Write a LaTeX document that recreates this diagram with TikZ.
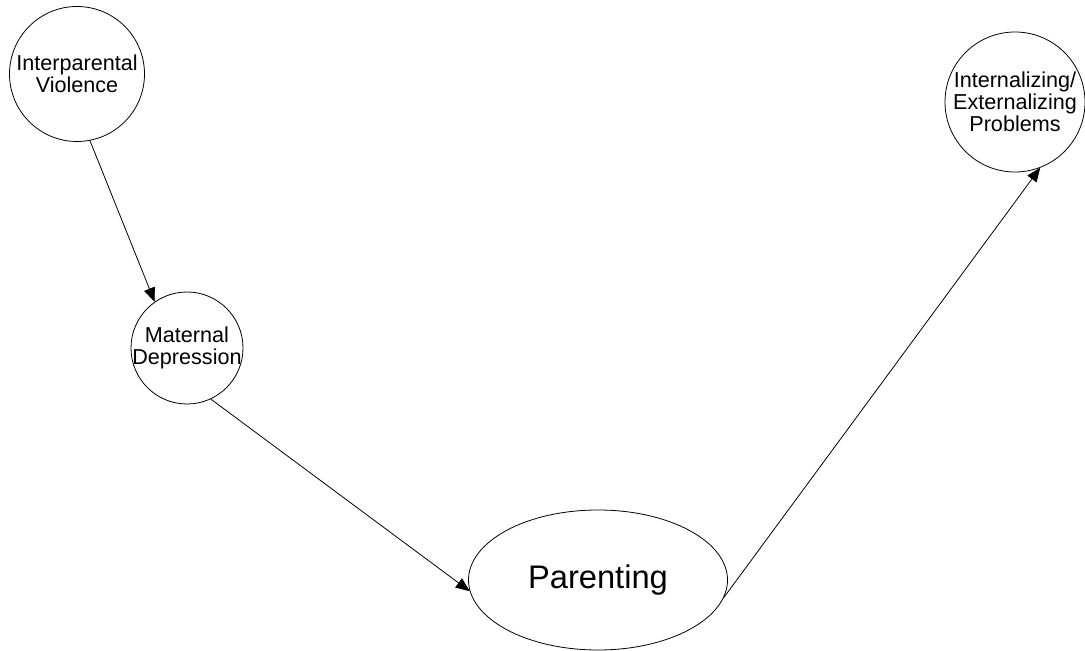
\documentclass[tikz,border=0pt]{standalone}
\usepackage{fontspec}
\setmainfont{Liberation Sans}
\usetikzlibrary{arrows.meta,shapes.geometric}

\begin{document}
\begin{tikzpicture}[x=0.75pt,y=0.75pt,
	construct/.style={draw, circle, line width=0.6pt, inner sep=-5pt, align=center, font=\fontsize{16.2}{16.5}\selectfont},
	effect/.style={-{Triangle[length=10.5pt,width=8.5pt]}, line width=0.6pt}]
\useasboundingbox (0,0) rectangle (1085,650);
% the constructs
\node[construct, minimum size=101.25pt] (ipv) at (77,576) {Interparental\\Violence};
\node[construct, minimum size=84pt] (mdep) at (187,302) {Maternal\\Depression};
\node[construct, minimum size=105pt] (probs) at (1015,548) {Internalizing/\\Externalizing\\Problems};
\node[draw, ellipse, line width=0.6pt, minimum width=194.25pt, minimum height=105pt, inner sep=0pt,
	font=\fontsize{24.5}{26}\selectfont] (par) at (598,70) {Parenting};
% the paths
\draw[effect] (ipv.-79) -- (mdep.125);
\draw[effect] (mdep.-65) -- (par.185);
\draw[effect] (par.-8) -- (probs.-69);
\end{tikzpicture}
\end{document}
